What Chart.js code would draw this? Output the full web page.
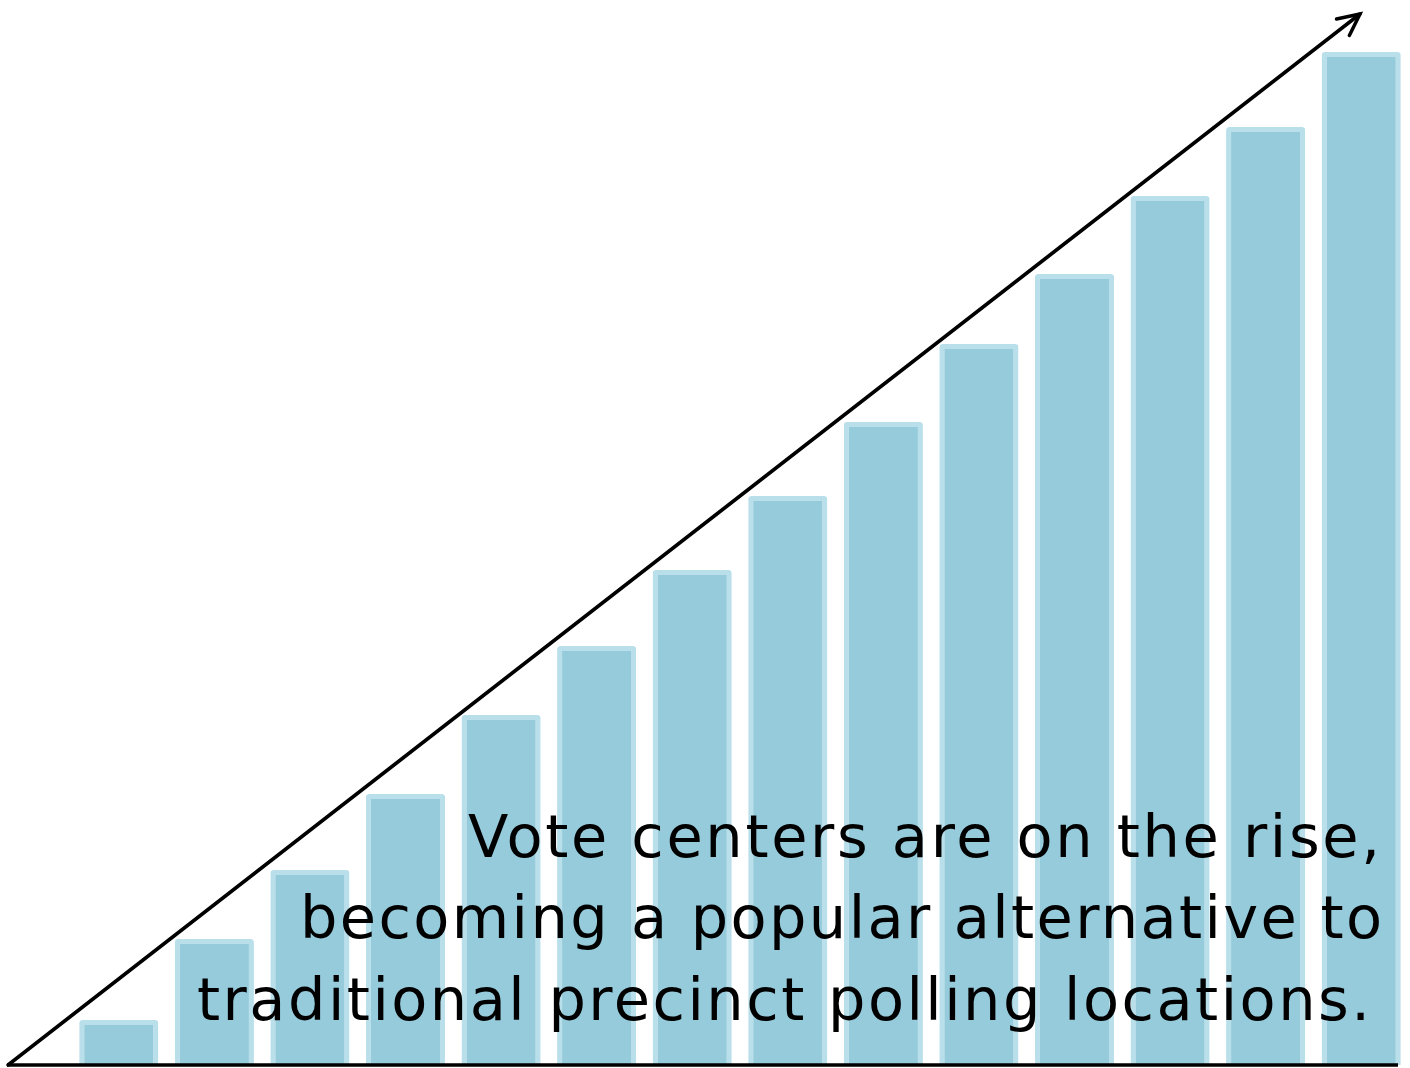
<!DOCTYPE html>
<html>
<head>
<meta charset="utf-8">
<script src="https://cdn.jsdelivr.net/npm/chart.js@4/dist/chart.umd.min.js"></script>
<style>
  html, body { margin: 0; padding: 0; background: #ffffff; }
  #wrap { width: 1410px; height: 1068px; }
</style>
</head>
<body>
<div id="wrap"><canvas id="c"></canvas></div>
<script>
// ---- data ----
const categories = ['1','2','3','4','5','6','7','8','9','10','11','12','13','14'];
const values = [45, 126, 195, 271, 350, 419, 495, 569, 643, 721, 791, 869, 938, 1013];
const captionLines = [
  'Vote centers are on the rise,',
  'becoming a popular alternative to',
  'traditional precinct polling locations.'
];
const captionLeft = [468, 300, 197];
const captionRight = [1380, 1382, 1370];

const overlay = {
  id: 'overlay',
  afterDraw(chart) {
    const ctx = chart.ctx;
    const a = chart.chartArea;
    const baseY = chart.scales.y.getPixelForValue(0);
    ctx.save();
    // baseline
    ctx.strokeStyle = '#000';
    ctx.lineWidth = 3.5;
    ctx.beginPath();
    ctx.moveTo(7, baseY);
    ctx.lineTo(a.right - 11, baseY);
    ctx.stroke();
    // diagonal arrow
    const x0 = 8, y0 = baseY, x1 = a.right - 49, y1 = 14;
    ctx.lineWidth = 3.5;
    ctx.lineCap = 'round';
    ctx.lineJoin = 'miter';
    ctx.beginPath();
    ctx.moveTo(x0, y0);
    ctx.lineTo(x1, y1);
    ctx.stroke();
    const ang = Math.atan2(y1 - y0, x1 - x0);
    const L = 24, w = 0.45;
    ctx.beginPath();
    ctx.moveTo(x1 - L * Math.cos(ang - w), y1 - L * Math.sin(ang - w));
    ctx.lineTo(x1, y1);
    ctx.lineTo(x1 - L * Math.cos(ang + w), y1 - L * Math.sin(ang + w));
    ctx.stroke();
    // caption
    ctx.fillStyle = '#000';
    ctx.font = '59px "DejaVu Sans"';
    ctx.textAlign = 'left';
    ctx.textBaseline = 'alphabetic';
    const baselines = [857, 938, 1020];
    captionLines.forEach((t, i) => {
      ctx.letterSpacing = '0px';
      const m = ctx.measureText(t).width;
      const target = captionRight[i] - captionLeft[i];
      const ls = (target - m) / (t.length - 1);
      ctx.letterSpacing = ls + 'px';
      ctx.fillText(t, captionLeft[i], baselines[i]);
    });
    ctx.letterSpacing = '0px';
    ctx.restore();
  }
};

new Chart(document.getElementById('c'), {
  type: 'bar',
  data: {
    labels: categories,
    datasets: [{
      data: values,
      backgroundColor: '#96cbdc',
      borderColor: '#b8dfea',
      borderWidth: 5,
      borderRadius: 3,
      borderSkipped: 'start',
      barPercentage: 0.92,
      categoryPercentage: 0.9
    }]
  },
  options: {
    responsive: true,
    maintainAspectRatio: false,
    animation: false,
    layout: { padding: { left: 71, right: 1, top: 0, bottom: 3 } },
    plugins: { legend: { display: false }, tooltip: { enabled: false } },
    scales: {
      x: { display: false },
      y: { display: false, min: 0, max: 1065 }
    }
  },
  plugins: [overlay]
});
</script>
</body>
</html>
